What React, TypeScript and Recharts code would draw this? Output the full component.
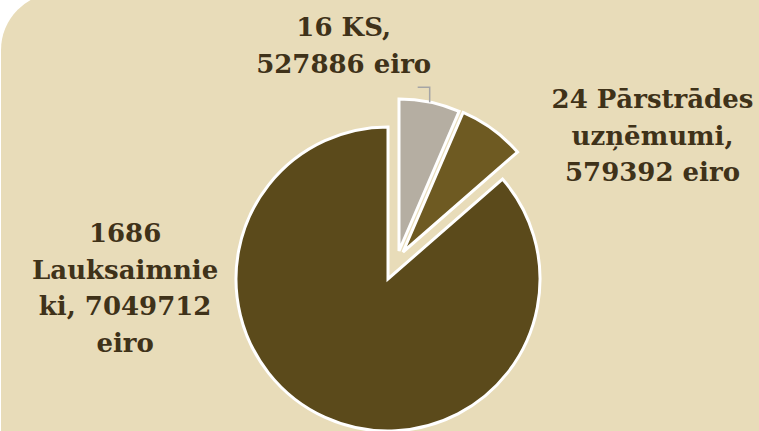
import React from 'react';
import { PieChart, Pie, Cell } from 'recharts';

// slices, clockwise from 12 o'clock
const CATEGORIES = ['16 KS', '24 Pārstrādes uzņēmumi', '1686 Lauksaimnieki'];
const AMOUNTS = [527886, 579392, 7049712];
const LABEL_LINES = [
  ['16 KS,', '527886 eiro'],
  ['24 Pārstrādes', 'uzņēmumi,', '579392 eiro'],
  ['1686', 'Lauksaimnie', 'ki, 7049712', 'eiro'],
];

const COLORS = ['#B5AEA2', '#6E5A22', '#5B4A1B'];
const BG = '#E8DCB9';
const TEXT = '#3F3219';
const FONT = '"DejaVu Serif", serif';

// explosion shift of each slice and label placement relative to slice outer midpoint
const EXPLODE = [[11, -28], [15, -27], [0, 0]];
const LABEL_SHIFT = [[-86, -66], [160, -21], [-200, -175]];
const LINE_H = 36.5;

const CX = 388;
const CY = 279;
const R = 152;
const RAD = Math.PI / 180;

const data = CATEGORIES.map((name, i) => ({ name, value: AMOUNTS[i] }));

const makeLabel = (visible: number) => (props: any) => {
  const { cx, cy, midAngle, outerRadius, index } = props;
  if (index !== visible) return null;
  const ox = cx + outerRadius * Math.cos(-midAngle * RAD);
  const oy = cy + outerRadius * Math.sin(-midAngle * RAD);
  const [dx, dy] = LABEL_SHIFT[index];
  return (
    <g>
      {index === 0 && (
        <polyline
          points={`${ox},${oy} ${ox},${oy - 15} ${ox - 12},${oy - 15}`}
          fill="none"
          stroke="#A5A5A5"
          strokeWidth={1.5}
        />
      )}
      <text
        x={ox + dx}
        y={oy + dy}
        textAnchor="middle"
        fill={TEXT}
        fontFamily={FONT}
        fontWeight="bold"
        fontSize={26}
      >
        {LABEL_LINES[index].map((line, k) => (
          <tspan key={k} x={ox + dx} dy={k === 0 ? 0 : LINE_H}>
            {line}
          </tspan>
        ))}
      </text>
    </g>
  );
};

// draw big slice first so the exploded ones sit on top
const ORDER = [2, 1, 0];

export default function App() {
  return (
    <div style={{ position: 'relative', width: 759, height: 431, overflow: 'hidden', background: '#fff' }}>
      <style>{'body{margin:0}'}</style>
      <div
        style={{
          position: 'absolute',
          left: 1,
          top: -7,
          width: 820,
          height: 520,
          borderRadius: 57,
          background: BG,
        }}
      />
      <PieChart
        width={759}
        height={431}
        margin={{ top: 0, right: 0, bottom: 0, left: 0 }}
        style={{ position: 'absolute', left: 0, top: 0 }}
      >
        {ORDER.map((vi) => (
          <Pie
            key={vi}
            data={data}
            dataKey="value"
            nameKey="name"
            cx={CX + EXPLODE[vi][0]}
            cy={CY + EXPLODE[vi][1]}
            outerRadius={R}
            startAngle={90}
            endAngle={-270}
            isAnimationActive={false}
            labelLine={false}
            label={makeLabel(vi)}
          >
            {data.map((_, i) => (
              <Cell
                key={`cell-${i}`}
                fill={i === vi ? COLORS[i] : 'transparent'}
                stroke={i === vi ? '#fff' : 'none'}
                strokeWidth={3}
              />
            ))}
          </Pie>
        ))}
      </PieChart>
    </div>
  );
}
